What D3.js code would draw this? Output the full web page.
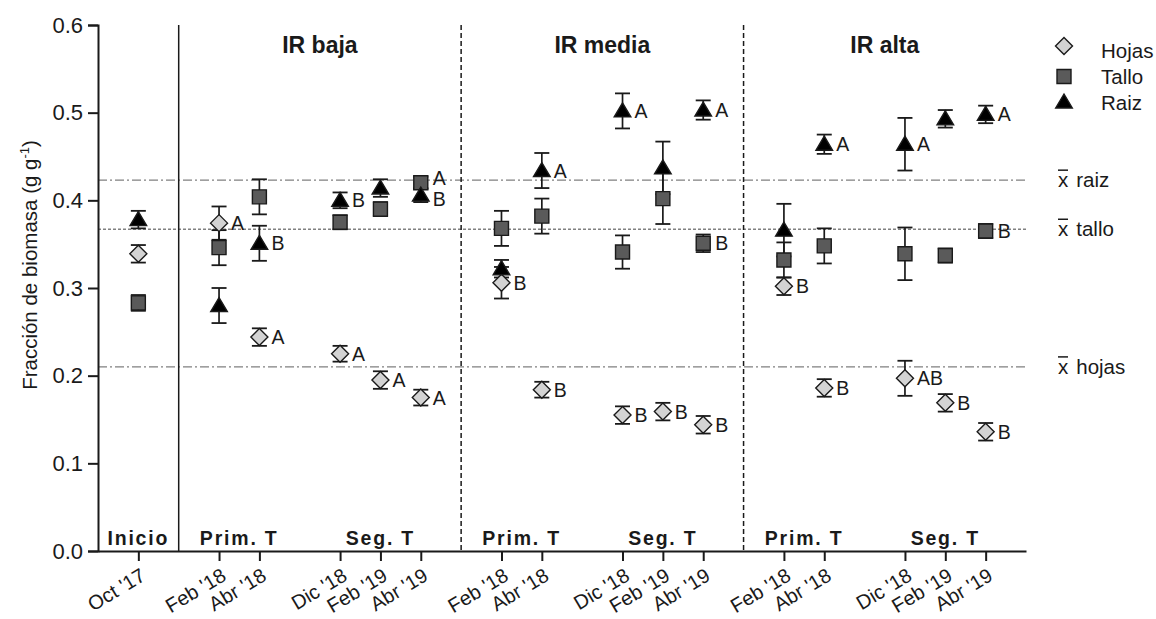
<!DOCTYPE html>
<html>
<head>
<meta charset="utf-8">
<script src="https://cdn.jsdelivr.net/npm/d3@7"></script>
<style>
  html, body { margin: 0; padding: 0; background: #fff; }
  svg { display: block; font-family: "Liberation Sans", Arial, sans-serif; }
</style>
</head>
<body>
<svg id="chart" width="1156" height="619"></svg>
<script>
// ---------- data ----------
const positions = [0, 2, 3, 5, 6, 7, 9, 10, 12, 13, 14, 16, 17, 19, 20, 21];
const dateLabels = ["Oct '17",
  "Feb '18", "Abr '18", "Dic '18", "Feb '19", "Abr '19",
  "Feb '18", "Abr '18", "Dic '18", "Feb '19", "Abr '19",
  "Feb '18", "Abr '18", "Dic '18", "Feb '19", "Abr '19"];

const hojasValues = [0.339, 0.374, 0.244, 0.225, 0.195, 0.175, 0.306, 0.184, 0.155, 0.159, 0.144, 0.302, 0.186, 0.197, 0.169, 0.136];
const hojasErrors = [0.010, 0.019, 0.010, 0.009, 0.010, 0.009, 0.018, 0.009, 0.010, 0.010, 0.010, 0.010, 0.010, 0.020, 0.010, 0.010];
const hojasLetters = ["", "A", "A", "A", "A", "A", "B", "B", "B", "B", "B", "B", "B", "AB", "B", "B"];

const talloValues = [0.283, 0.346, 0.404, 0.375, 0.390, 0.420, 0.368, 0.382, 0.341, 0.402, 0.351, 0.332, 0.348, 0.339, 0.337, 0.365];
const talloErrors = [0.009, 0.020, 0.020, 0.008, 0.008, 0.007, 0.020, 0.020, 0.019, 0.029, 0.010, 0.020, 0.020, 0.030, 0.008, 0.008];
const talloLetters = ["", "", "", "", "", "A", "", "", "", "", "B", "", "", "", "", "B"];

const raizValues = [0.378, 0.280, 0.351, 0.400, 0.414, 0.406, 0.322, 0.434, 0.502, 0.437, 0.503, 0.366, 0.464, 0.464, 0.493, 0.498];
const raizErrors = [0.010, 0.020, 0.020, 0.009, 0.010, 0.008, 0.010, 0.020, 0.020, 0.030, 0.011, 0.030, 0.011, 0.030, 0.010, 0.010];
const raizLetters = ["", "", "B", "B", "", "B", "", "A", "A", "", "A", "", "A", "A", "", "A"];

const seriesNames = ["Hojas", "Tallo", "Raiz"];
const meanNames = ["raiz", "tallo", "hojas"];
const meanValues = [0.423, 0.367, 0.210];

const yTicks = [0.0, 0.1, 0.2, 0.3, 0.4, 0.5, 0.6];
const panelTitles = ["IR baja", "IR media", "IR alta"];
const panelCenters = [4.5, 11.5, 18.5];
const separators = [1, 8, 15];
const periodLabels = ["Inicio", "Prim. T", "Seg. T", "Prim. T", "Seg. T", "Prim. T", "Seg. T"];
const periodPositions = [0, 2.5, 6, 9.5, 13, 16.5, 20];

// ---------- layout ----------
const svg = d3.select("#chart");
const x = d3.scaleLinear().domain([-1, 22]).range([98, 1026]);
const y = d3.scaleLinear().domain([0, 0.6]).range([551, 25]);
const ink = "#1a1a1a";

// mean reference lines
const meanDash = ["9,3,2,3", "3,2", "9,3,2,3"];
meanValues.forEach((v, i) => {
  svg.append("line")
    .attr("x1", x(-1)).attr("x2", x(22))
    .attr("y1", y(v)).attr("y2", y(v))
    .attr("stroke", "#808080").attr("stroke-width", 1.3)
    .attr("stroke-dasharray", meanDash[i]);
  const t = svg.append("text")
    .attr("x", 1058).attr("y", y(v) + 7)
    .attr("font-size", 20.5).attr("fill", ink);
  t.append("tspan").text("x");
  t.append("tspan").attr("dx", 8).text(meanNames[i]);
  svg.append("line")
    .attr("x1", 1058).attr("x2", 1068)
    .attr("y1", y(v) - 10).attr("y2", y(v) - 10)
    .attr("stroke", ink).attr("stroke-width", 1.5);
});

// separators
separators.forEach((s, i) => {
  svg.append("line")
    .attr("x1", x(s)).attr("x2", x(s))
    .attr("y1", y(0.6)).attr("y2", y(0))
    .attr("stroke", ink).attr("stroke-width", 1.5)
    .attr("stroke-dasharray", i === 0 ? null : "5,3");
});

// axes
const yAxis = d3.axisLeft(y).tickValues(yTicks).tickFormat(d3.format(".1f")).tickSize(10).tickPadding(5);
const gy = svg.append("g").attr("transform", `translate(${x(-1)},0)`).call(yAxis);
gy.select(".domain").attr("stroke", ink).attr("stroke-width", 2);
gy.selectAll(".tick line").attr("stroke", ink).attr("stroke-width", 2);
gy.selectAll(".tick text").attr("font-size", 22).attr("fill", ink)
  .attr("font-family", "Liberation Sans, Arial, sans-serif");

const xAxis = d3.axisBottom(x).tickValues(positions).tickFormat("").tickSize(10).tickSizeOuter(0);
const gx = svg.append("g").attr("transform", `translate(0,${y(0)})`).call(xAxis);
gx.select(".domain").attr("stroke", ink).attr("stroke-width", 2);
gx.selectAll(".tick line").attr("stroke", ink).attr("stroke-width", 2);

// rotated date labels
svg.append("g").selectAll("text").data(positions).join("text")
  .attr("transform", d => `translate(${x(d) + 1},${567}) rotate(-31)`)
  .attr("text-anchor", "end").attr("dy", "0.72em")
  .attr("font-size", 20).attr("fill", ink)
  .text((d, i) => dateLabels[i]);

// y label
const yl = svg.append("text")
  .attr("transform", "translate(37,265) rotate(-90)")
  .attr("text-anchor", "middle").attr("font-size", 20.5).attr("fill", ink);
yl.append("tspan").text("Fracción de biomasa (g g");
yl.append("tspan").attr("dy", -8).attr("font-size", 13).text("-1");
yl.append("tspan").attr("dy", 8).text(")");

// panel titles
panelTitles.forEach((t, i) => {
  svg.append("text").attr("x", x(panelCenters[i])).attr("y", 53)
    .attr("text-anchor", "middle").attr("font-size", 23).attr("font-weight", "bold")
    .attr("fill", ink).text(t);
});

// period labels
periodLabels.forEach((t, i) => {
  svg.append("text").attr("x", x(periodPositions[i])).attr("y", 545)
    .attr("text-anchor", "middle").attr("font-size", 19.5).attr("font-weight", "bold")
    .attr("letter-spacing", 1.8).attr("fill", ink).text(t);
});

// ---------- series ----------
const shapes = {
  Hojas: "M0,-8.5L8.5,0L0,8.5L-8.5,0Z",
  Tallo: "M-7,-7H7V7H-7Z",
  Raiz: "M0,-8L8.3,6H-8.3Z"
};
const fills = { Hojas: "#d3d3d3", Tallo: "#5a5a5a", Raiz: "#000" };
const series = [
  { name: "Hojas", values: hojasValues, errors: hojasErrors, letters: hojasLetters },
  { name: "Tallo", values: talloValues, errors: talloErrors, letters: talloLetters },
  { name: "Raiz", values: raizValues, errors: raizErrors, letters: raizLetters }
];

const capW = 7.5;
series.forEach(s => {
  const g = svg.append("g");
  s.values.forEach((v, i) => {
    const cx = x(positions[i]);
    const y1 = y(v + s.errors[i]), y2 = y(v - s.errors[i]);
    g.append("line").attr("x1", cx).attr("x2", cx).attr("y1", y1).attr("y2", y2)
      .attr("stroke", ink).attr("stroke-width", 1.7);
    [y1, y2].forEach(yy => g.append("line")
      .attr("x1", cx - capW).attr("x2", cx + capW).attr("y1", yy).attr("y2", yy)
      .attr("stroke", ink).attr("stroke-width", 1.8));
  });
});
series.forEach(s => {
  svg.append("g").selectAll("path").data(s.values).join("path")
    .attr("transform", (v, i) => `translate(${x(positions[i])},${y(v)})`)
    .attr("d", shapes[s.name])
    .attr("fill", fills[s.name]).attr("stroke", ink).attr("stroke-width", 1.4);
});

// letters with simple collision avoidance per date
positions.forEach((p, i) => {
  const labs = series.filter(s => s.letters[i]).map(s => ({ t: s.letters[i], ly: y(s.values[i]) + 7 }));
  labs.sort((a, b) => a.ly - b.ly);
  for (let k = 1; k < labs.length; k++) {
    const gap = labs[k].ly - labs[k - 1].ly;
    if (gap < 21) { const d = (21 - gap) / 2; labs[k - 1].ly -= d; labs[k].ly += d; }
  }
  labs.forEach(l => {
    svg.append("text").attr("x", x(p) + 12).attr("y", l.ly)
      .attr("font-size", 19.5).attr("fill", ink).text(l.t);
  });
});

// legend
const legY = [46, 76.5, 102];
const legTextY = [58, 84, 110];
seriesNames.forEach((n, i) => {
  svg.append("path").attr("transform", `translate(1064,${legY[i]})`)
    .attr("d", shapes[n]).attr("fill", fills[n]).attr("stroke", ink).attr("stroke-width", 1.4);
  svg.append("text").attr("x", 1101).attr("y", legTextY[i])
    .attr("font-size", 20.5).attr("fill", ink).text(n);
});
</script>
</body>
</html>
